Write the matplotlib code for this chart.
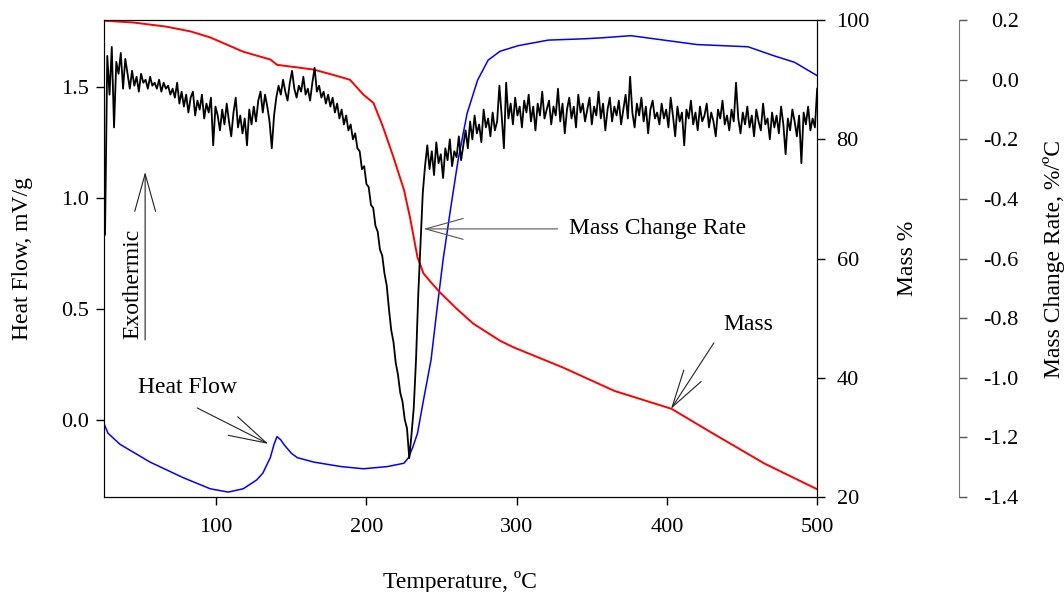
import numpy as np
import matplotlib.pyplot as plt

plt.rcParams['font.family'] = ['Liberation Serif', 'DejaVu Serif']
plt.rcParams['axes.unicode_minus'] = False

# heat flow, mV/g (left axis)
hf_temp = [25.5, 28, 36, 56, 78, 96, 108, 118, 127, 131, 136, 138.5, 140.5, 143, 145,
           150, 154, 165, 183, 198, 214, 225, 228, 231, 234, 238, 243, 247, 251, 256,
           261, 267, 274, 281, 289, 301, 321, 345, 356, 376, 398, 420, 454, 471, 485, 500]
hf_val = [-0.02, -0.06, -0.11, -0.19, -0.26, -0.31, -0.325, -0.31, -0.27, -0.24, -0.17,
          -0.11, -0.075, -0.09, -0.11, -0.15, -0.17, -0.19, -0.21, -0.22, -0.21, -0.195,
          -0.17, -0.12, -0.06, 0.09, 0.27, 0.50, 0.72, 0.95, 1.17, 1.38, 1.53, 1.62, 1.66,
          1.685, 1.71, 1.716, 1.72, 1.73, 1.71, 1.69, 1.68, 1.64, 1.61, 1.55]

# mass % (first right axis)
mass_temp = [25.5, 45, 67, 83, 96, 107, 118, 129, 136, 140.5, 156, 165, 178, 189, 198,
             204.7, 211, 218, 225, 229, 234, 238, 243, 249, 260, 271, 289, 298, 331, 365,
             403, 431, 465, 500]
mass_val = [99.9, 99.6, 98.9, 98.1, 97.1, 95.9, 94.7, 93.9, 93.4, 92.5, 92.0, 91.7, 90.8,
            90.0, 87.5, 86.1, 82.1, 77.0, 71.5, 66.9, 60.2, 57.5, 56.0, 54.3, 51.6, 49.1,
            46.2, 45.1, 41.7, 37.8, 34.8, 30.6, 25.6, 21.3]

# mass change rate, %/C (second right axis), read every 1.5 C from 26 C
mcr_a = [-0.52, 0.08, -0.05, 0.11, -0.16, 0.06, 0.02, 0.09, -0.03, 0.07]
mcr_b = [0.02, -0.03, 0.03, -0.02, 0.01, -0.04, 0.02, -0.01, 0.00, -0.03,
         0.01, -0.02, -0.01, -0.03, 0.00, -0.04, -0.01, -0.03, -0.02, -0.05]
mcr_c = [-0.03, -0.06, -0.01, -0.08, -0.04, -0.09, -0.05, -0.11, -0.06, -0.04,
         -0.12, -0.07, -0.10, -0.05, -0.13, -0.08, -0.11, -0.06, -0.22, -0.09]
mcr_d = [-0.12, -0.17, -0.10, -0.15, -0.08, -0.14, -0.19, -0.11, -0.06, -0.16,
         -0.12, -0.18, -0.13, -0.22, -0.10, -0.15, -0.09, -0.14, -0.07]
mcr_e = [-0.04, -0.11, -0.05, -0.09, -0.14, -0.23, -0.12]
mcr_f = [-0.06, -0.02, -0.05, 0.00, -0.04, -0.07, -0.01, 0.03, -0.03, -0.06, -0.02,
         -0.04, 0.01, -0.05, -0.03, -0.07, -0.01, 0.04, -0.04, -0.02, -0.06]
mcr_g = [-0.04, -0.08, -0.05, -0.09, -0.06, -0.11, -0.08, -0.13, -0.10, -0.15,
         -0.12, -0.17, -0.15, -0.20, -0.18, -0.23]
mcr_h = [-0.24, -0.30, -0.29, -0.35, -0.36, -0.42, -0.43, -0.49, -0.51, -0.57, -0.59,
         -0.65, -0.69, -0.77, -0.84, -0.88, -0.95, -0.99, -1.05, -1.08, -1.14, -1.17]
mcr_i = [-1.27, -1.19, -1.10, -0.94, -0.72, -0.55, -0.38, -0.29]
mcr_j = [-0.22, -0.30, -0.24, -0.32, -0.21, -0.28, -0.25, -0.33, -0.23, -0.27,
         -0.20, -0.29, -0.24, -0.26, -0.19, -0.27, -0.22]
mcr_k = [-0.17, -0.23, -0.14, -0.20, -0.12, -0.18, -0.15, -0.21, -0.10, -0.16,
         -0.13, -0.19, -0.11, -0.17, -0.14, -0.02, -0.12]
mcr_l = [-0.23, -0.01, -0.13, -0.08, -0.15, -0.06, -0.12, -0.09, -0.16, -0.07,
         -0.11, -0.05, -0.14, -0.09, -0.17, -0.08, -0.12, -0.04, -0.13, -0.10,
         -0.07, -0.15, -0.09, -0.12, -0.03, -0.14, -0.08, -0.18, -0.10, -0.06,
         -0.13, -0.09, -0.16, -0.05, -0.11, -0.08, -0.14, -0.10, -0.06, -0.15,
         -0.09, -0.12, -0.04, -0.13, -0.08, -0.17, -0.10, -0.06, -0.14, -0.09,
         -0.12, -0.07, -0.15, -0.10, -0.05, -0.13, 0.01, -0.11, -0.16, -0.08,
         -0.12, -0.06, -0.14, -0.09, -0.18, -0.10, -0.07, -0.13, -0.11, -0.15,
         -0.08, -0.13, -0.10, -0.16, -0.06, -0.12, -0.19, -0.09, -0.14, -0.11,
         -0.22, -0.10, -0.13, -0.07, -0.15, -0.11, -0.17, -0.09, -0.14, -0.12,
         -0.08, -0.16, -0.11, -0.14, -0.19, -0.10, -0.13, -0.07, -0.15, -0.12,
         -0.17, -0.10, -0.14, -0.01, -0.13, -0.18, -0.11, -0.15, -0.09, -0.16,
         -0.12, -0.19, -0.10, -0.14, -0.17, -0.08, -0.15, -0.13, -0.20, -0.11,
         -0.16, -0.12, -0.18, -0.09, -0.15, -0.25, -0.13, -0.17, -0.10, -0.14,
         -0.19, -0.12, -0.28, -0.11, -0.15, -0.09, -0.17, -0.13, -0.16, -0.03]
mcr_val = (mcr_a + mcr_b + mcr_c + mcr_d + mcr_e + mcr_f + mcr_g + mcr_h + mcr_i
           + mcr_j + mcr_k + mcr_l)
mcr_temp = 26 + 1.5 * np.arange(len(mcr_val))

fig = plt.figure(figsize=(10.64, 5.92), dpi=100)
ax1 = fig.add_axes([0.098, 0.1605, 0.67, 0.8055])
ax2 = ax1.twinx()
ax3 = ax1.twinx()

# spine position first: moving a spine resets its ticks
for s in ['top', 'bottom', 'left']:
    ax3.spines[s].set_visible(False)
ax3.spines['right'].set_position(('axes', 1.199))
ax3.spines['right'].set_color('#777777')
for s in ['top', 'bottom', 'right']:
    ax1.spines[s].set_color('black')
ax1.spines['left'].set_color('#555555')

ax1.plot(hf_temp, hf_val, color='#0000ff', lw=1.1)
ax2.plot(mass_temp, mass_val, color='#ff0000', lw=1.4)
ax3.plot(mcr_temp, mcr_val, color='black', lw=1.3)

ax1.set_xlim(25.5, 500)
ax1.set_ylim(-0.347, 1.80)
ax2.set_ylim(20, 100)
ax3.set_ylim(-1.4, 0.2)

ax1.tick_params(axis='x', direction='out', length=6, width=1, labelsize=16, pad=9)
ax1.tick_params(axis='y', direction='out', length=6, width=1, labelsize=16, pad=5)
ax2.tick_params(axis='y', direction='out', length=6, width=1, labelsize=16, pad=8)
ax3.tick_params(axis='y', direction='out', length=6, width=1, labelsize=16, pad=37,
                color='#555555')

ax1.set_xticks([100, 200, 300, 400, 500])
ax1.set_yticks([0.0, 0.5, 1.0, 1.5])
ax1.set_yticklabels(['0.0', '0.5', '1.0', '1.5'])
ax2.set_yticks([20, 40, 60, 80, 100])
mcr_ticks = [-1.4, -1.2, -1.0, -0.8, -0.6, -0.4, -0.2, 0.0, 0.2]
ax3.set_yticks(mcr_ticks)
ax3.set_yticklabels(['%.1f' % t for t in mcr_ticks])
for tick in ax3.yaxis.get_major_ticks():
    tick.label2.set_horizontalalignment('right')

ax1.set_xlabel('Temperature, ºC', fontsize=17)
ax1.xaxis.set_label_coords(0.499, -0.155)
ax1.set_ylabel('Heat Flow, mV/g', fontsize=17)
ax1.yaxis.set_label_coords(-0.100, 0.5)
ax2.set_ylabel('Mass %', fontsize=17)
ax2.yaxis.set_label_coords(1.112, 0.5)
ax3.set_ylabel('Mass Change Rate, %/ºC', fontsize=17)
ax3.yaxis.set_label_coords(1.317, 0.5)

# annotations, placed in heat-flow data coordinates
arrow = dict(arrowstyle='->,head_length=2.7,head_width=0.75', mutation_scale=10,
             color='#222222', lw=0.8, shrinkA=0, shrinkB=0)
tr = ax1.transData
ax3.text(44.7, 0.613, 'Exothermic', transform=tr, rotation=90, fontsize=17,
         ha='center', va='center')
ax3.annotate('', xy=(52.7, 1.117), xytext=(52.7, 0.36), xycoords=tr, textcoords=tr,
             arrowprops=arrow)
ax3.text(80.7, 0.144, 'Heat Flow', transform=tr, fontsize=17, ha='center', va='center')
ax3.annotate('', xy=(134.7, -0.108), xytext=(87.3, 0.054), xycoords=tr, textcoords=tr,
             arrowprops=arrow)
ax3.text(394, 0.86, 'Mass Change Rate', transform=tr, fontsize=17, ha='center',
         va='center')
ax3.annotate('', xy=(238, 0.86), xytext=(327.3, 0.86), xycoords=tr, textcoords=tr,
             arrowprops=dict(arrow, color='#555555'))
ax3.text(454, 0.428, 'Mass', transform=tr, fontsize=17, ha='center', va='center')
ax3.annotate('', xy=(402.7, 0.0495), xytext=(431.3, 0.347), xycoords=tr, textcoords=tr,
             arrowprops=arrow)

fig.savefig('out.png', dpi=100)
